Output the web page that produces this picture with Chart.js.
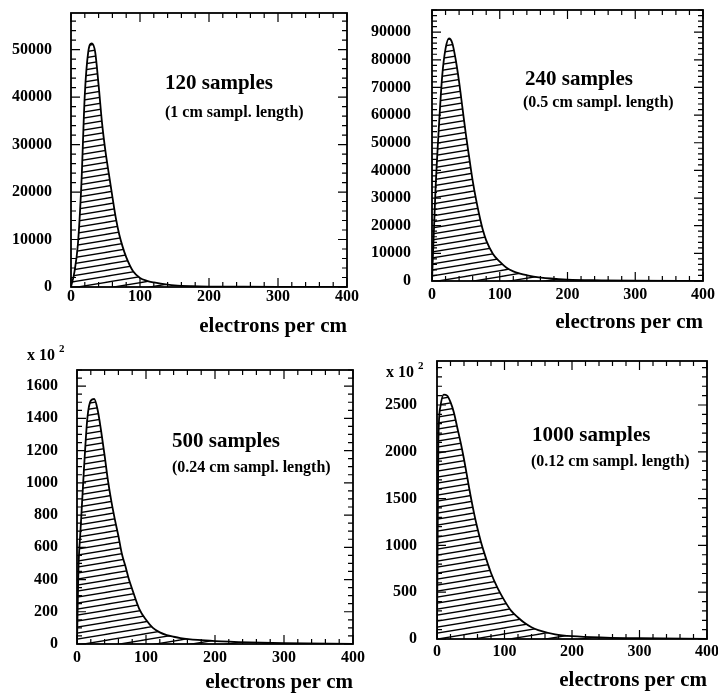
<!DOCTYPE html>
<html>
<head>
<meta charset="utf-8">
<script src="https://cdn.jsdelivr.net/npm/chart.js@4.4.1/dist/chart.umd.min.js"></script>
<style>
  body { margin: 0; background: #fff; }
  #page { position: relative; width: 718px; height: 695px; overflow: hidden;
          font-family: "Liberation Serif", "Times New Roman", serif; font-weight: bold; color: #000; }
  canvas { position: absolute; }
  .note { position: absolute; white-space: nowrap; line-height: 1; }
  .big { font-size: 21px; }
  .small { font-size: 16px; }
  .mult { font-size: 16px; }
  .mult sup { font-size: 11px; position: relative; top: -2px; }
</style>
</head>
<body>
<div id="page">
  <canvas id="c120" width="360" height="340" style="left:0;top:0"></canvas>
  <canvas id="c240" width="358" height="340" style="left:360px;top:0"></canvas>
  <canvas id="c500" width="380" height="355" style="left:0;top:340px"></canvas>
  <canvas id="c1000" width="358" height="355" style="left:360px;top:340px"></canvas>

  <div class="note big" style="left:165px;top:72px">120 samples</div>
  <div class="note small" style="left:165px;top:104px">(1 cm sampl. length)</div>
  <div class="note big" style="left:525px;top:68px">240 samples</div>
  <div class="note small" style="left:523px;top:94px">(0.5 cm sampl. length)</div>
  <div class="note big" style="left:172px;top:430px">500 samples</div>
  <div class="note small" style="left:172px;top:459px">(0.24 cm sampl. length)</div>
  <div class="note big" style="left:532px;top:424px">1000 samples</div>
  <div class="note small" style="left:531px;top:453px">(0.12 cm sampl. length)</div>

  <div class="note mult" style="left:27px;top:345px">x 10 <sup>2</sup></div>
  <div class="note mult" style="left:386px;top:362px">x 10 <sup>2</sup></div>
</div>

<script>
// x grid (electrons per cm) and histogram heights
const xCoarse = [0, 5, 10, 15, 20, 25, 30, 35, 40, 45, 50, 55, 60, 65, 70, 75, 80, 90, 100,
  110, 120, 130, 140, 150, 175, 200, 250, 300, 400];
const xFine = [0, 2, 5, 10, 15, 20, 25, 30, 35, 40, 45, 50, 55, 60, 65, 70, 75, 80, 90, 100,
  110, 120, 130, 140, 150, 175, 200, 250, 300, 400];

const y120 = [0, 3200, 9000, 21500, 40500, 49500, 51300, 49500, 42500, 34500, 28500, 23700, 19000,
  14500, 11000, 8400, 6300, 3300, 1900, 1300, 950, 700, 500, 350, 180, 100, 50, 20, 0];
const y240 = [0, 32000, 55000, 74000, 84000, 87700, 86000, 80000, 72000, 62500, 53000, 44500, 36300,
  29500, 23600, 18500, 14700, 9800, 7000, 4800, 3500, 2700, 2100, 1600, 900, 500, 250, 100, 0];
// these two are in units of 10^2
const y500 = [0, 450, 700, 1080, 1400, 1510, 1520, 1450, 1320, 1170, 1010, 880, 770, 670, 560, 485,
  405, 340, 220, 150, 100, 72, 55, 45, 37, 25, 18, 10, 5, 0];
const y1000 = [0, 2100, 2480, 2610, 2600, 2530, 2420, 2260, 2100, 1920, 1720, 1520, 1340, 1180, 1040,
  920, 810, 705, 540, 410, 300, 230, 170, 125, 95, 50, 30, 15, 8, 0];

const xTicks = [0, 100, 200, 300, 400];
const yTicks120 = [0, 10000, 20000, 30000, 40000, 50000];
const yTicks240 = [0, 10000, 20000, 30000, 40000, 50000, 60000, 70000, 80000, 90000];
const yTicks500 = [0, 200, 400, 600, 800, 1000, 1200, 1400, 1600];
const yTicks1000 = [0, 500, 1000, 1500, 2000, 2500];

const serif = '"Liberation Serif", "Times New Roman", serif';

// hatch fill, slightly tilted lines
const makeHatch = () => {
  let c = document.createElement("canvas");
  let w = 36, h = 6;
  c.width = w;
  c.height = h;
  let g = c.getContext("2d");
  g.strokeStyle = "#000";
  g.lineWidth = 1.3;
  for (let k = -h; k <= h; k += h) {
    g.beginPath();
    g.moveTo(0, h + k);
    g.lineTo(w, k);
    g.stroke();
  }
  return g.createPattern(c, "repeat");
};

// frame with inward ticks on all four sides
const frameTicks = {
  id: "frameTicks",
  afterDatasetsDraw(chart, args, opts) {
    const { ctx, chartArea: a, scales } = chart;
    const x = scales.x, y = scales.y;
    ctx.save();
    ctx.strokeStyle = "#000";
    ctx.lineWidth = 1.2;
    ctx.beginPath();
    for (let v = 0; v <= 400; v += 20) {
      let px = x.getPixelForValue(v);
      let len = v % 100 === 0 ? 9 : 5;
      ctx.moveTo(px, a.bottom);
      ctx.lineTo(px, a.bottom - len);
      ctx.moveTo(px, a.top);
      ctx.lineTo(px, a.top + len);
    }
    for (let v = 0; v <= y.max; v += opts.minor) {
      let py = y.getPixelForValue(v);
      let len = v % opts.major === 0 ? 9 : 5;
      ctx.moveTo(a.left, py);
      ctx.lineTo(a.left + len, py);
      ctx.moveTo(a.right, py);
      ctx.lineTo(a.right - len, py);
    }
    ctx.stroke();
    ctx.lineWidth = 1.8;
    ctx.strokeRect(a.left, a.top, a.right - a.left, a.bottom - a.top);
    ctx.restore();
  },
};

const makePanel = (id, xs, ys, p) => {
  new Chart(document.getElementById(id), {
    type: "line",
    data: {
      datasets: [
        {
          data: xs.map((v, i) => ({ x: v, y: ys[i] })),
          borderColor: "#000",
          borderWidth: 1.8,
          backgroundColor: makeHatch(),
          fill: "origin",
          pointRadius: 0,
          cubicInterpolationMode: "monotone",
        },
      ],
    },
    options: {
      responsive: false,
      animation: false,
      layout: { padding: { top: p.top, right: p.right, left: 0, bottom: 0 } },
      plugins: {
        legend: { display: false },
        tooltip: { enabled: false },
        frameTicks: { major: p.major, minor: p.minor },
      },
      scales: {
        x: {
          type: "linear",
          min: 0,
          max: 400,
          afterBuildTicks: (s) => { s.ticks = xTicks.map((v) => ({ value: v })); },
          afterFit: (s) => { s.height = p.xH; s.paddingLeft = 0; s.paddingRight = 0; },
          grid: { display: false, drawTicks: false },
          border: { display: false },
          ticks: {
            color: "#000",
            padding: p.xPad,
            maxRotation: 0,
            autoSkip: false,
            callback: (v) => String(v),
            font: { family: serif, size: 16, weight: "bold" },
          },
          title: {
            display: true,
            text: "electrons per cm",
            align: "end",
            color: "#000",
            font: { family: serif, size: 21, weight: "bold" },
            padding: { top: 0, bottom: p.titlePad },
          },
        },
        y: {
          min: 0,
          max: p.yMax,
          afterBuildTicks: (s) => { s.ticks = p.yTicks.map((v) => ({ value: v })); },
          afterFit: (s) => { s.width = p.yW; s.paddingTop = 0; s.paddingBottom = 0; },
          grid: { display: false, drawTicks: false },
          border: { display: false },
          ticks: {
            color: "#000",
            padding: p.yPad,
            autoSkip: false,
            callback: (v) => String(v),
            font: { family: serif, size: 16, weight: "bold" },
          },
        },
      },
    },
    plugins: [frameTicks],
  });
};

makePanel("c120", xCoarse, y120, {
  top: 13, right: 13, yW: 71, xH: 53, xPad: 0, yPad: 19, titlePad: 1,
  yMax: 57700, yTicks: yTicks120, major: 10000, minor: 2000,
});
makePanel("c240", xCoarse, y240, {
  top: 10, right: 15, yW: 72, xH: 59, xPad: 4, yPad: 21, titlePad: 5,
  yMax: 98000, yTicks: yTicks240, major: 10000, minor: 2000,
});
makePanel("c500", xFine, y500, {
  top: 30, right: 27, yW: 77, xH: 51, xPad: 4, yPad: 19, titlePad: 0,
  yMax: 1700, yTicks: yTicks500, major: 200, minor: 50,
});
makePanel("c1000", xFine, y1000, {
  top: 21, right: 11, yW: 77, xH: 56, xPad: 3, yPad: 20, titlePad: 2,
  yMax: 2970, yTicks: yTicks1000, major: 500, minor: 100,
});
</script>
</body>
</html>
